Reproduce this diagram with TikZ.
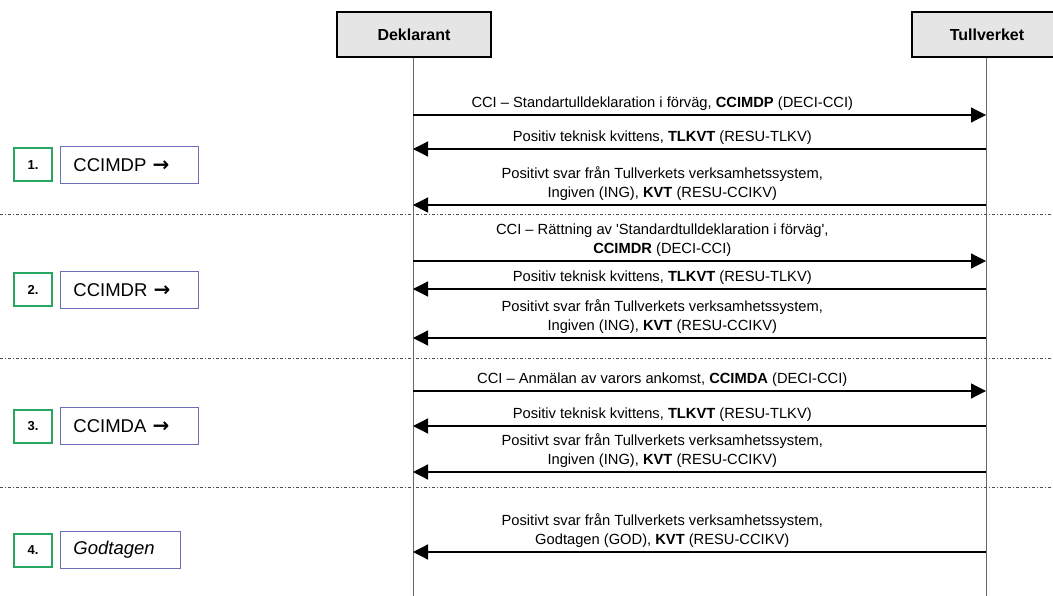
\documentclass[tikz,border=0pt]{standalone}
\usepackage{fontspec}
\newfontfamily\arial{Liberation Sans}
\newfontfamily\symf{DejaVu Sans}
\usepackage{tikz}
\usetikzlibrary{arrows.meta,positioning}
\definecolor{nrgreen}{RGB}{40,165,95}
\definecolor{stepblue}{RGB}{110,110,185}
\newcommand{\steparrow}{{\symf\bfseries\fontsize{20}{21}\selectfont →}}

\begin{document}
\begin{tikzpicture}[x=1pt,y=-1pt,
  actor/.style={draw=black,line width=1.8pt,fill=black!10,minimum width=154pt,minimum height=45pt,font=\arial\fontsize{16}{18}\selectfont\bfseries},
  life/.style={draw=black!60,line width=0.9pt},
  msg/.style={draw=black,line width=1.2pt,-{Triangle[length=15pt,width=15pt]}},
  lbl/.style={above=1pt,align=center,font=\arial\fontsize{14.7}{19}\selectfont},
  sep/.style={draw=black!70,line width=0.8pt,dash pattern=on 3pt off 2pt on 1pt off 2pt},
  nrbox/.style={draw=nrgreen,line width=2pt,minimum width=38pt,minimum height=33pt,font=\arial\fontsize{13}{15}\selectfont\bfseries},
  stepbox/.style={draw=stepblue,line width=0.9pt,minimum height=37pt,text width=112pt,inner xsep=13pt,font=\arial\fontsize{18.5}{21}\selectfont}]
\useasboundingbox (0,0) rectangle (1053,596);

% actors and lifelines
\node[actor] (dekl) at (414,34.5) {Deklarant};
\node[actor,minimum width=150pt] (tull) at (987,34.5) {Tullverket};
\coordinate (dekl end) at (413,596);
\coordinate (tull end) at (986,596);
\draw[life] (dekl.south -| dekl end) -- (dekl end);
\draw[life] (tull.south -| tull end) -- (tull end);

% separators
\foreach \y in {214,358,487}
  \draw[sep] (0,\y) coordinate (s\y) -- (1053,\y) coordinate (e\y);

% messages (r = to Tullverket, l = to Deklarant)
\foreach \y/\dir/\txt in {
  115/r/{CCI – Standartulldeklaration i förväg, \textbf{CCIMDP} (DECI-CCI)},
  149/l/{Positiv teknisk kvittens, \textbf{TLKVT} (RESU-TLKV)},
  205/l/{Positivt svar från Tullverkets verksamhetssystem,\\Ingiven (ING), \textbf{KVT} (RESU-CCIKV)},
  261/r/{CCI – Rättning av 'Standardtulldeklaration i förväg',\\\textbf{CCIMDR} (DECI-CCI)},
  289/l/{Positiv teknisk kvittens, \textbf{TLKVT} (RESU-TLKV)},
  338/l/{Positivt svar från Tullverkets verksamhetssystem,\\Ingiven (ING), \textbf{KVT} (RESU-CCIKV)},
  391/r/{CCI – Anmälan av varors ankomst, \textbf{CCIMDA} (DECI-CCI)},
  426/l/{Positiv teknisk kvittens, \textbf{TLKVT} (RESU-TLKV)},
  472/l/{Positivt svar från Tullverkets verksamhetssystem,\\Ingiven (ING), \textbf{KVT} (RESU-CCIKV)},
  552/l/{Positivt svar från Tullverkets verksamhetssystem,\\Godtagen (GOD), \textbf{KVT} (RESU-CCIKV)}}
{
  \coordinate (d\y) at (413,\y);
  \coordinate (t\y) at (986,\y);
  \path (d\y) -- node[lbl,pos=0.435] (m\y) {\txt} (t\y);
  \if\dir r
    \draw[msg] (d\y) -- (t\y);
  \else
    \draw[msg] (t\y) -- (d\y);
  \fi
}

% steps on the left
\foreach \n/\y/\w/\txt in {1/165/112/{CCIMDP \steparrow},2/290/112/{CCIMDR \steparrow},3/426/112/{CCIMDA \steparrow},4/550/94/{\itshape Godtagen}}
{
  \node[nrbox] (nr\n) at (33,\y) {\n.};
  \node[stepbox,text width=\w pt,right=7pt of nr\n.east,anchor=west] (step\n) {\txt};
}
\end{tikzpicture}
\end{document}
